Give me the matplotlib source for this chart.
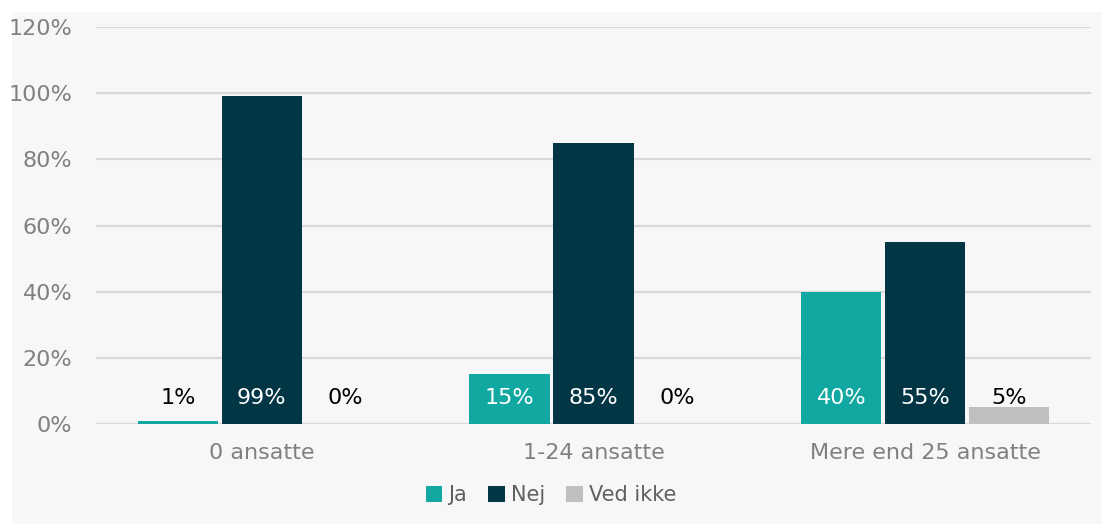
import matplotlib
matplotlib.use("Agg")
import matplotlib.pyplot as plt
from matplotlib.patches import Rectangle
from matplotlib import font_manager as fm

names = {f.name for f in fm.fontManager.ttflist}
FONT = "Liberation Sans Narrow" if "Liberation Sans Narrow" in names else "DejaVu Sans"
plt.rcParams['font.family'] = [FONT, 'DejaVu Sans']

categories = ["0 ansatte", "1-24 ansatte", "Mere end 25 ansatte"]
series_names = ["Ja", "Nej", "Ved ikke"]
ja = [1, 15, 40]
nej = [99, 85, 55]
ved_ikke = [0, 0, 5]
yticks = [0, 20, 40, 60, 80, 100, 120]
ytick_labels = ["0%", "20%", "40%", "60%", "80%", "100%", "120%"]

colors = ["#12a8a2", "#023645", "#bfbfbf"]

W, H = 1102, 524
fig = plt.figure(figsize=(W / 100, H / 100), dpi=100)
fig.patch.set_facecolor("white")
bg = Rectangle((12 / W, 0), 1 - 12 / W, 1 - 12 / H, transform=fig.transFigure,
               facecolor="#f7f7f7", edgecolor="none", zorder=-10)
fig.add_artist(bg)

ax = fig.add_axes([96 / W, (H - 424) / H, (1091 - 96) / W, (424 - 27) / H])
ax.set_zorder(1)
ax.set_facecolor("none")
ax.set_xlim(-0.5, 2.5)
ax.set_ylim(0, 120)
for s in ax.spines.values():
    s.set_visible(False)
ax.set_yticks(yticks)
ax.set_yticklabels(ytick_labels)
ax.tick_params(axis="y", length=0, pad=17, labelsize=16, labelcolor="#808080")
ax.tick_params(axis="x", length=0, pad=14, labelsize=16, labelcolor="#808080")
ax.grid(axis="y", color="#d9d9d9", linewidth=1.6, zorder=0)
ax.set_axisbelow(True)

width = 0.242
offsets = [-0.253, 0, 0.253]
data = [ja, nej, ved_ikke]
x = list(range(len(categories)))
for i, (vals, name, col) in enumerate(zip(data, series_names, colors)):
    xs = [xi + offsets[i] for xi in x]
    ax.bar(xs, vals, width=width, color=col, label=name, zorder=2)
    for xi, v in zip(xs, vals):
        txt_col = "white" if (i < 2 and v >= 10) else "black"
        ax.text(xi, 8, f"{v}%", ha="center", va="center", fontsize=16, color=txt_col, zorder=3)

ax.set_xticks(x)
ax.set_xticklabels(categories)

leg = fig.legend(loc="center", bbox_to_anchor=(0.5, (H - 495) / H), ncol=3, frameon=False,
                 fontsize=15, handlelength=0.8, handleheight=0.8, handletextpad=0.3,
                 columnspacing=1.0, labelcolor="#606060")

fig.savefig("out.png", dpi=100)
